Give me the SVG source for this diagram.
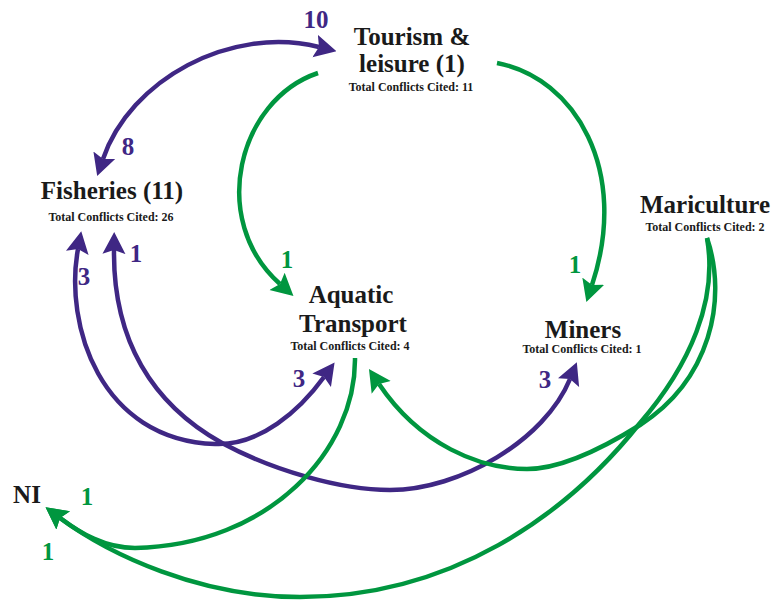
<svg xmlns="http://www.w3.org/2000/svg" width="774" height="601" viewBox="0 0 774 601">
<style>
.node{font-family:"Liberation Serif","Times New Roman",serif;font-weight:bold;fill:#1a1a1a;text-anchor:middle}
.t{font-size:25px}
.s{font-size:12px}
.lbl{font-family:"Liberation Serif","Times New Roman",serif;font-weight:bold;font-size:25px;text-anchor:middle}
.lp{fill:#3f2784}
.lg{fill:#00963f}
.cp{fill:none;stroke:#3f2784;stroke-width:4.5}
.cg{fill:none;stroke:#00963f;stroke-width:4.5}
</style>
<defs>
<marker id="ap" viewBox="0 -12 22 24" markerUnits="userSpaceOnUse" markerWidth="22" markerHeight="24" refX="4" refY="0" orient="auto-start-reverse">
<path d="M0,-11.5 L22,0 L0,11.5 L4,0 Z" fill="#3f2784"/>
</marker>
<marker id="ag" viewBox="0 -12 22 24" markerUnits="userSpaceOnUse" markerWidth="22" markerHeight="24" refX="4" refY="0" orient="auto-start-reverse">
<path d="M0,-11.5 L22,0 L0,11.5 L4,0 Z" fill="#00963f"/>
</marker>
</defs>
<rect width="774" height="601" fill="#ffffff"/>
<g id="connectors">
<path id="c-fish-tour" class="cp" d="M103,159 C130,80 230,25 319,47" marker-start="url(#ap)" marker-end="url(#ap)"/>
<path id="c-fish-aqua" class="cp" d="M78,249 C64,325 100,440 215,444 C260,446 300,410 324,377" marker-start="url(#ap)" marker-end="url(#ap)"/>
<path id="c-fish-mine" class="cp" d="M114,250 C113,340 152,404 222,443 C272,470 340,490 390,490 C460,490 545,440 570,379" marker-start="url(#ap)" marker-end="url(#ap)"/>
<path id="c-tour-aqua" class="cg" d="M318,73 C238,100 208,220 280,284" marker-end="url(#ag)"/>
<path id="c-tour-mine" class="cg" d="M497,63 C575,78 630,170 592,285" marker-end="url(#ag)"/>
<path id="c-aqua-ni" class="cg" d="M355,358 C356,450 270,545 135,548 C105,548 80,533 60,518" marker-end="url(#ag)"/>
<path id="c-mari-ni" class="cg" d="M707,238 C718,300 690,365 640,423 C565.6,516.6 450,597 300,597 C200,597 110,555 60,518" marker-end="url(#ag)"/>
<path id="c-mari-aqua" class="cg" d="M707,238 C728,300 710,380 640,425 C600,450 560,469 527,469 C480,469 420,445 379,384" marker-end="url(#ag)"/>
</g>
<g id="node-tourism">
<text class="node t" x="412" y="45">Tourism &amp;</text>
<text class="node t" x="412" y="72">leisure (1)</text>
<text class="node s" x="411" y="91">Total Conflicts Cited: 11</text>
</g>
<g id="node-fisheries">
<text class="node t" x="112" y="199">Fisheries (11)</text>
<text class="node s" x="111" y="221">Total Conflicts Cited: 26</text>
</g>
<g id="node-aquatic">
<text class="node t" x="351" y="303">Aquatic</text>
<text class="node t" x="353" y="332">Transport</text>
<text class="node s" x="350" y="350">Total Conflicts Cited: 4</text>
</g>
<g id="node-miners">
<text class="node t" x="583" y="338">Miners</text>
<text class="node s" x="582" y="353">Total Conflicts Cited: 1</text>
</g>
<g id="node-mariculture">
<text class="node t" x="705" y="213">Mariculture</text>
<text class="node s" x="705" y="231">Total Conflicts Cited: 2</text>
</g>
<g id="node-ni">
<text class="node t" x="27" y="503">NI</text>
</g>
<g id="labels">
<text class="lbl lp" x="316" y="28">10</text>
<text class="lbl lp" x="128" y="155">8</text>
<text class="lbl lp" x="84" y="285">3</text>
<text class="lbl lp" x="136" y="262">1</text>
<text class="lbl lg" x="287" y="268">1</text>
<text class="lbl lp" x="299" y="387">3</text>
<text class="lbl lg" x="575" y="273">1</text>
<text class="lbl lp" x="545" y="388">3</text>
<text class="lbl lg" x="87" y="505">1</text>
<text class="lbl lg" x="48" y="560">1</text>
</g>
</svg>
